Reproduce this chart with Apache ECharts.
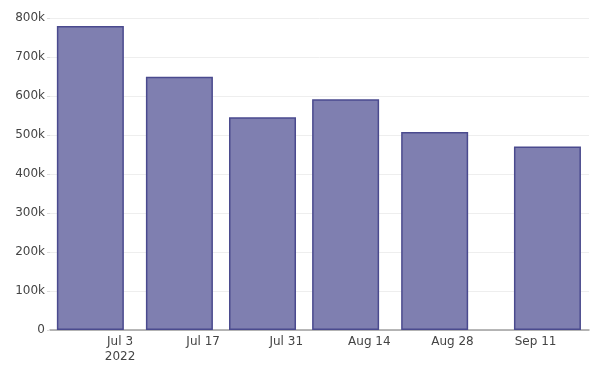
<!DOCTYPE html>
<html>
<head>
<meta charset="utf-8">
<script src="https://cdn.jsdelivr.net/npm/echarts@6/dist/echarts.min.js"></script>
<style>
  html, body { margin: 0; padding: 0; background: #fff; }
  #chart { width: 606px; height: 377px; }
</style>
</head>
<body>
<div id="chart"></div>
<script>
// bar dates and values
const barDates = ['2022-06-28', '2022-07-13', '2022-07-27', '2022-08-10', '2022-08-25', '2022-09-13'];
const barValues = [780000, 650000, 546000, 592000, 508000, 471000];
// x axis ticks
const tickDates = ['2022-07-03', '2022-07-17', '2022-07-31', '2022-08-14', '2022-08-28', '2022-09-11'];
const tickLabels = ['Jul 3\n2022', 'Jul 17', 'Jul 31', 'Aug 14', 'Aug 28', 'Sep 11'];

const DAY = 86400000;
const t = s => new Date(s + 'T00:00:00').getTime();
const tickTimes = tickDates.map(t);

const dom = document.getElementById('chart');
const myChart = echarts.init(dom, null, { renderer: 'canvas' });

// 时间轴用 value 轴 + 时间戳，刻度用 customValues
const option = {
  animation: false,
  textStyle: { fontFamily: 'DejaVu Sans' },
  grid: { left: 50, right: 17, top: 10, bottom: 47, containLabel: false },
  xAxis: {
    type: 'value',
    min: t('2022-07-03') - 11.8 * DAY,
    max: t('2022-07-03') + 79 * DAY,
    axisLine: { show: true, onZero: false, lineStyle: { color: '#a0a0a0', width: 1.5 } },
    axisTick: { show: false },
    splitLine: { show: false },
    axisLabel: {
      customValues: tickTimes,
      color: '#444',
      fontSize: 12,
      lineHeight: 15,
      margin: 4,
      hideOverlap: false,
      formatter: function (v) {
        const i = tickTimes.indexOf(v);
        return i >= 0 ? tickLabels[i] : '';
      }
    }
  },
  yAxis: {
    type: 'value',
    min: 0,
    max: 821000,
    interval: 100000,
    axisLine: { show: false },
    axisTick: { show: true, length: 3, lineStyle: { color: '#ddd' } },
    splitLine: { show: true, showMaxLine: false, lineStyle: { color: '#eeeeee', width: 1 } },
    axisLabel: {
      color: '#444',
      fontSize: 12,
      margin: 5,
      showMaxLabel: false,
      formatter: v => v === 0 ? '0' : (v / 1000) + 'k'
    }
  },
  series: [
    {
      type: 'bar',
      barWidth: 67,
      data: barDates.map((d, i) => [t(d), barValues[i]]),
      itemStyle: {
        color: 'rgb(127,127,176)',
        borderColor: 'rgb(74,74,142)',
        borderWidth: 1.5
      }
    }
  ]
};

myChart.setOption(option);
window.addEventListener('resize', function () {
  myChart.resize();
});
</script>
</body>
</html>
